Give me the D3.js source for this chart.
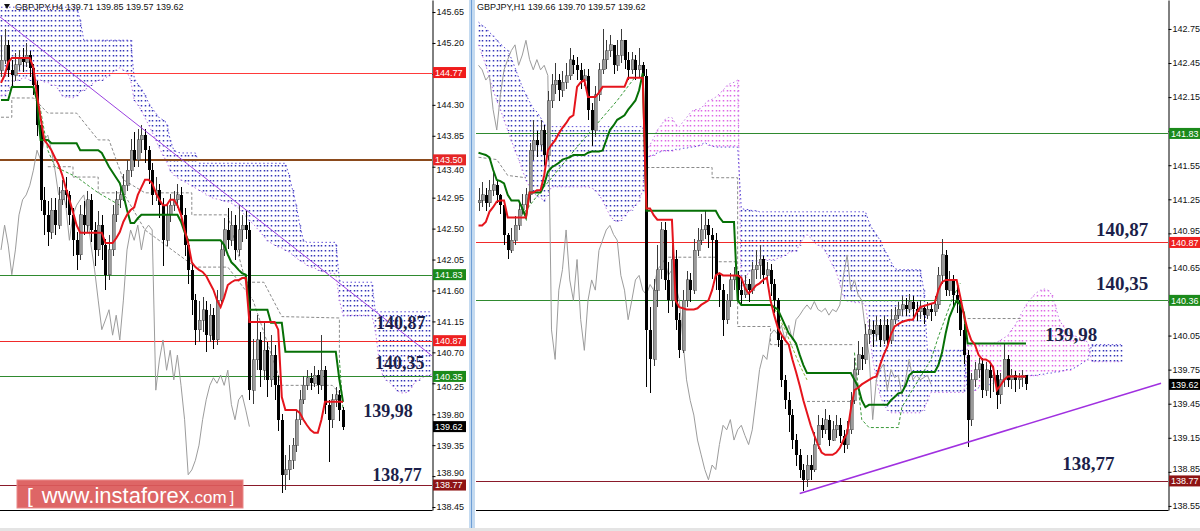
<!DOCTYPE html>
<html><head><meta charset="utf-8">
<script src="https://cdn.jsdelivr.net/npm/d3@7"></script>
<style>body{margin:0;background:#fff}svg{display:block}</style>
</head><body>
<svg id="c" width="1200" height="531"></svg>
<script>
// ---------------- DATA : left panel GBPJPY H4 ----------------
const leftHeader = "GBPJPY,H4  139.71 139.85 139.57 139.62";
const leftOpen0 = 144.80;
const leftClose = [
144.95,145.17,144.81,144.73,144.88,144.98,144.92,145.02,144.84,144.59,
144.01,142.92,142.70,142.45,142.77,142.55,142.92,143.06,142.99,142.70,
142.33,142.12,142.70,142.55,142.92,142.48,142.19,142.55,142.26,141.83,
142.19,142.70,142.92,142.99,143.13,143.35,143.64,143.50,143.79,143.86,
143.64,143.35,142.99,143.06,142.84,142.33,142.70,142.84,142.92,142.99,
142.70,142.26,141.90,141.46,141.03,141.17,141.32,140.95,141.24,140.88,
141.46,142.19,142.48,142.33,142.55,142.19,142.48,142.55,142.48,140.15,
140.59,140.88,140.44,140.73,140.30,140.66,140.22,139.72,138.92,138.99,
139.13,139.35,139.72,140.01,140.22,140.33,140.25,140.37,140.22,140.44,
139.94,139.72,140.01,140.08,139.86,139.62];
const leftHigh = [
145.30,145.40,145.25,144.95,145.05,145.10,145.12,145.20,145.08,144.90,
144.65,144.10,143.10,142.90,142.95,142.95,143.10,143.20,143.25,143.05,
142.80,142.45,142.85,142.90,143.05,143.00,142.60,142.75,142.70,142.35,
142.40,142.85,143.05,143.15,143.30,143.50,143.80,143.90,143.95,144.00,
143.95,143.70,143.45,143.25,143.15,142.95,142.85,143.00,143.05,143.15,
143.10,142.80,142.35,142.00,141.55,141.45,141.50,141.45,141.40,141.35,
141.60,142.30,142.65,142.80,142.75,142.70,142.85,142.70,142.75,142.60,
140.90,141.25,141.00,141.15,140.85,140.95,140.80,140.35,139.80,139.20,
139.35,139.45,139.85,140.15,140.35,140.45,140.40,140.50,140.45,140.95,
140.50,140.00,140.10,140.20,140.15,139.90];
const leftLow = [
144.70,144.90,144.70,144.55,144.65,144.80,144.78,144.85,144.70,144.45,
143.85,142.75,142.40,142.25,142.35,142.40,142.50,142.85,142.80,142.55,
142.10,141.90,142.05,142.40,142.45,142.30,141.95,142.10,142.05,141.60,
141.75,142.10,142.60,142.80,142.90,143.05,143.25,143.40,143.40,143.60,
143.45,143.15,142.85,142.90,142.65,141.95,142.25,142.60,142.75,142.80,
142.55,142.10,141.70,141.25,140.80,140.85,141.00,140.70,140.85,140.75,
140.80,141.40,142.10,142.20,142.25,142.05,142.10,142.30,142.35,140.00,
139.95,140.45,140.20,140.30,140.05,140.20,140.00,139.55,138.65,138.70,
138.85,139.00,139.25,139.65,139.95,140.15,140.15,140.20,140.10,140.15,
139.80,139.10,139.60,139.90,139.70,139.57];
const leftTenkan = [
144.62,144.73,144.92,144.98,144.98,144.98,144.98,144.98,144.98,144.84,
144.44,144.11,143.79,143.72,143.64,143.53,143.43,143.28,143.09,142.92,
142.74,142.55,142.44,142.44,142.44,142.44,142.44,142.44,142.44,142.29,
142.29,142.29,142.36,142.45,142.60,142.70,142.77,142.81,142.99,143.10,
143.21,143.21,143.16,143.02,142.92,142.84,142.84,142.92,142.92,142.84,
142.70,142.48,142.29,142.01,141.94,141.90,141.87,141.81,141.71,141.61,
141.46,141.36,141.50,141.68,141.72,141.75,141.75,141.78,141.78,141.14,
141.14,141.14,141.14,141.14,141.14,141.14,141.14,141.03,140.05,139.86,
139.86,139.86,139.86,139.82,139.72,139.64,139.57,139.53,139.53,139.72,
139.98,139.98,139.98,139.98,139.98,139.98];
const leftKijun = [
144.37,144.37,144.37,144.56,144.56,144.56,144.56,144.56,144.56,144.56,
144.37,143.79,143.79,143.79,143.74,143.74,143.74,143.74,143.74,143.74,
143.74,143.74,143.64,143.64,143.64,143.64,143.64,143.64,143.60,143.50,
143.40,143.32,143.24,143.16,142.99,142.77,142.58,142.58,142.65,142.70,
142.70,142.70,142.70,142.70,142.70,142.70,142.70,142.70,142.70,142.70,
142.60,142.45,142.33,142.33,142.33,142.33,142.33,142.33,142.33,142.33,
142.33,142.33,142.26,142.12,142.01,141.96,141.90,141.85,141.83,141.32,
141.32,141.32,141.32,141.32,141.32,141.13,141.13,141.13,141.13,140.71,
140.71,140.71,140.71,140.71,140.71,140.71,140.71,140.71,140.71,140.71,
140.71,140.71,140.71,140.71,140.30,139.98];
const leftSpanA = [
144.44,144.44,144.52,144.59,144.66,144.66,144.69,144.69,144.66,144.66,
144.66,144.66,144.63,144.63,144.59,144.59,144.52,144.44,144.41,144.41,
144.40,144.44,144.49,144.52,144.54,144.59,144.63,144.66,144.66,144.69,
144.73,144.78,144.81,144.84,144.81,144.78,144.66,144.37,144.30,144.22,
144.11,144.01,143.90,143.79,143.67,143.57,143.47,143.35,143.28,143.24,
143.21,143.18,143.15,143.12,143.09,143.06,143.03,143.00,142.97,142.94,
142.93,142.92,142.90,142.89,142.87,142.84,142.80,142.74,142.68,142.62,
142.57,142.51,142.45,142.39,142.33,142.29,142.26,142.23,142.22,142.19,
142.16,142.12,142.07,142.04,142.01,141.97,141.94,141.93,141.90,141.88,
141.87,141.85,141.85,141.84,141.46,141.24,141.24,141.24,141.24,141.24,
141.24,141.24,141.24,141.24,141.02,140.59,140.37,140.30,140.26,140.20,
140.15,140.11,140.11,140.12,140.18,140.27,140.30,140.33,140.36,140.37,
140.39,140.39];
const leftSpanB = [
145.72,145.72,145.72,145.72,145.72,145.72,145.72,145.72,145.72,145.72,
145.72,145.72,145.72,145.72,145.72,145.72,145.72,145.72,145.72,145.72,
145.72,145.72,145.53,145.24,145.24,145.24,145.24,145.24,145.24,145.24,
145.24,145.24,145.24,145.24,145.24,145.24,145.24,144.69,144.60,144.54,
144.44,144.33,144.25,144.18,144.11,144.08,144.04,143.79,143.64,143.61,
143.60,143.60,143.60,143.60,143.60,143.45,143.45,143.45,143.45,143.45,
143.45,143.45,143.45,143.45,143.45,143.45,143.45,143.45,143.45,143.45,
143.45,143.45,143.45,143.45,143.45,143.45,143.45,143.45,143.45,143.45,
143.28,143.06,142.84,142.55,142.33,142.30,142.30,142.30,142.30,142.30,
142.30,142.30,142.30,142.30,141.75,141.72,141.72,141.72,141.72,141.72,
141.72,141.72,141.72,141.72,141.29,141.29,141.29,141.29,141.29,141.29,
141.29,141.29,141.29,141.29,141.29,141.29,141.29,141.29,141.29,141.29,
141.29,141.29];
const leftDashGray1 = [[0,144.12],[3,144.12],[3,144.40],[9,144.40],[13,144.18],[21,144.18],[27,143.79],[30,143.79],[34,143.21],[40,143.02],[53,143.02],[53,142.70],[63,142.70],[68,141.72],[73,141.72],[78,141.22],[94,141.20],[94,140.59]];
const leftDashGray2 = [[13,143.40],[20,143.40],[20,143.25],[27,143.25],[27,143.02],[34,143.02],[40,142.48],[54,141.94],[63,141.94],[70,141.46],[78,140.22],[92,140.22],[94,140.11]];
const leftDashGreen1 = [[9,144.56],[11,144.22],[13,143.64],[15,143.40],[21,143.25],[27,143.02],[33,142.84]];
const leftDashGreen2 = [[94,140.59],[95,139.86]];
const leftTrend = [[-0.3,145.58],[119.7,140.65]];
const leftLevels = [144.77,143.50,141.83,140.87,140.35,138.77];
const leftLevelText = ["144.77","143.50","141.83","140.87","140.35","138.77"];
const leftLast = 139.62;
const leftTicks = [138.45,138.90,139.35,139.80,140.25,140.70,141.15,141.60,142.05,142.50,142.95,143.40,143.85,144.30,144.75,145.20,145.65];
const leftTimeIdx = [0,16,32,48,64,80];
const leftTimeText = ["24 May 2017","29 May 04:00","31 May 20:00","5 Jun 12:00","8 Jun 04:00","12 Jun 20:00"];
const leftNotes = ["140,87","140,35","139,98","138,77"];

// ---------------- DATA : right panel GBPJPY H1 ----------------
const rightHeader = "GBPJPY,H1  139.66 139.70 139.57 139.62";
const rightOpen0 = 141.22;
const rightClose = [
141.24,141.29,141.22,141.33,141.38,141.29,141.20,140.94,140.80,140.89,
141.02,141.16,141.20,141.29,141.68,141.77,141.73,141.86,141.64,142.12,
142.26,142.30,142.21,142.28,142.34,142.48,142.43,142.39,142.30,142.34,
142.04,141.86,142.17,142.39,142.48,142.56,142.61,142.43,142.52,142.65,
142.48,142.39,142.48,142.39,142.43,142.34,140.10,139.84,140.45,140.63,
140.98,140.54,140.36,140.72,140.19,139.92,140.36,140.54,140.45,140.80,
140.89,140.98,141.02,140.94,140.89,140.58,140.45,140.19,140.36,140.54,
140.58,140.45,140.41,140.50,140.45,140.63,140.67,140.72,140.58,140.63,
140.50,140.36,140.01,139.66,139.48,139.35,139.13,139.00,138.87,138.78,
138.91,138.87,139.09,139.26,139.22,139.31,139.13,139.22,139.26,139.17,
139.09,139.22,139.48,139.75,139.88,139.84,140.06,140.10,140.06,140.14,
140.01,140.14,140.01,140.19,140.23,140.28,140.32,140.28,140.35,140.28,
140.26,140.29,140.23,140.28,140.26,140.32,140.58,140.76,140.45,140.54,
140.41,140.36,140.10,139.88,139.31,139.66,139.75,139.80,139.57,139.75,
139.68,139.70,139.53,139.66,139.84,139.66,139.70,139.66,139.68,139.70,
139.62];
const rightHigh = [
141.35,141.40,141.35,141.42,141.48,141.42,141.30,141.22,140.95,141.00,
141.10,141.22,141.30,141.35,141.75,141.95,141.85,141.95,141.90,142.20,
142.35,142.45,142.35,142.38,142.45,142.58,142.52,142.50,142.45,142.40,
142.40,142.10,142.25,142.45,142.75,142.65,142.70,142.60,142.65,142.75,
142.60,142.55,142.55,142.52,142.58,142.46,142.40,140.30,140.55,140.85,
141.05,141.05,140.70,140.85,140.80,140.25,140.45,140.62,140.60,140.90,
141.00,141.12,141.15,141.08,141.00,140.95,140.60,140.50,140.42,140.60,
140.65,140.62,140.55,140.58,140.55,140.70,140.80,140.85,140.75,140.70,
140.68,140.55,140.38,140.05,139.70,139.55,139.40,139.18,139.05,138.92,
139.00,139.00,139.20,139.35,139.32,139.40,139.35,139.30,139.35,139.32,
139.22,139.30,139.55,139.85,140.00,139.95,140.15,140.20,140.18,140.22,
140.20,140.22,140.20,140.28,140.30,140.35,140.40,140.38,140.42,140.40,
140.35,140.36,140.32,140.35,140.33,140.40,140.65,140.90,140.80,140.62,
140.58,140.50,140.40,140.15,139.92,139.72,139.82,139.85,139.85,139.82,
139.80,139.78,139.75,139.72,139.98,139.88,139.76,139.74,139.72,139.75,
139.70];
const rightLow = [
141.15,141.18,141.15,141.18,141.28,141.22,141.12,140.85,140.72,140.78,
140.85,140.98,141.12,141.15,141.22,141.60,141.62,141.68,141.55,141.60,
142.05,142.18,142.12,142.15,142.22,142.30,142.35,142.30,142.22,142.25,
141.95,141.72,141.80,142.12,142.35,142.40,142.50,142.35,142.38,142.45,
142.40,142.30,142.35,142.30,142.32,142.25,139.60,139.54,139.78,140.30,
140.55,140.45,140.25,140.30,140.10,139.85,139.90,140.30,140.35,140.42,
140.75,140.85,140.90,140.82,140.55,140.45,140.30,140.05,140.15,140.30,
140.45,140.35,140.32,140.38,140.35,140.42,140.55,140.55,140.50,140.52,
140.40,140.25,139.95,139.60,139.40,139.20,139.05,138.90,138.80,138.68,
138.72,138.78,138.85,139.05,139.15,139.18,139.08,139.12,139.15,139.10,
139.02,139.05,139.18,139.45,139.70,139.75,139.80,139.98,139.95,140.00,
139.95,139.98,139.95,139.98,140.15,140.20,140.22,140.22,140.25,140.20,
140.18,140.20,140.15,140.20,140.18,140.22,140.28,140.50,140.40,140.40,
140.30,140.25,140.05,139.80,139.07,139.25,139.60,139.68,139.50,139.52,
139.50,139.55,139.40,139.45,139.60,139.60,139.58,139.55,139.58,139.60,
139.57];
const rightTenkan = [
141.02,141.02,141.05,141.14,141.18,141.23,141.24,141.24,141.09,141.09,
141.09,141.09,141.09,141.09,141.31,141.31,141.33,141.33,141.46,141.68,
141.73,141.77,141.83,141.88,141.92,141.97,141.99,142.24,142.28,142.30,
142.15,142.15,142.15,142.19,142.24,142.24,142.24,142.24,142.24,142.24,
142.24,142.32,142.32,142.32,142.32,142.32,141.17,141.17,141.11,141.07,
141.07,141.07,141.07,141.07,140.36,140.30,140.29,140.28,140.28,140.28,
140.29,140.32,140.34,140.36,140.45,140.58,140.60,140.58,140.58,140.58,
140.58,140.58,140.56,140.47,140.42,140.45,140.49,140.51,140.54,140.56,
140.36,140.23,140.12,140.06,140.01,139.97,139.84,139.73,139.61,139.48,
139.37,139.26,139.17,139.09,139.02,139.00,139.00,139.00,139.02,139.06,
139.13,139.19,139.40,139.57,139.59,139.62,139.64,139.66,139.68,139.69,
139.79,139.88,139.95,140.06,140.13,140.15,140.17,140.18,140.19,140.19,
140.25,140.30,140.31,140.32,140.33,140.34,140.45,140.52,140.54,140.54,
140.54,140.54,140.39,140.23,140.10,140.01,139.97,139.88,139.84,139.84,
139.82,139.77,139.57,139.61,139.66,139.69,139.69,139.69,139.69,139.69,
139.69];
const rightKijun = [
141.66,141.65,141.64,141.62,141.51,141.42,141.41,141.39,141.29,141.24,
141.24,141.24,141.17,141.09,141.31,141.31,141.31,141.31,141.38,141.49,
141.53,141.55,141.57,141.60,141.61,141.62,141.64,141.64,141.64,141.64,
141.66,141.67,141.67,141.67,141.68,141.77,141.86,141.90,141.95,141.97,
141.99,142.04,142.08,142.12,142.21,142.36,141.15,141.15,141.15,141.15,
141.15,141.15,141.15,141.15,141.15,141.15,141.15,141.15,141.15,141.15,
141.15,141.15,141.15,141.15,141.15,141.15,141.09,141.05,141.05,141.05,
141.05,140.36,140.32,140.32,140.32,140.32,140.32,140.32,140.32,140.32,
140.32,140.30,140.28,140.21,140.14,140.07,140.03,139.98,139.88,139.79,
139.72,139.72,139.72,139.72,139.72,139.72,139.72,139.72,139.72,139.72,
139.72,139.72,139.72,139.66,139.60,139.48,139.42,139.44,139.44,139.44,
139.44,139.44,139.44,139.48,139.51,139.54,139.55,139.61,139.70,139.73,
139.73,139.73,139.73,139.73,139.73,139.73,139.79,139.90,140.07,140.21,
140.29,140.36,140.32,140.25,139.98,139.98,139.98,139.98,139.98,139.98,
139.98,139.98,139.98,139.98,139.98,139.98,139.98,139.98,139.98,139.98,
139.98];
const rightSpanA = [
142.61,142.52,142.43,142.32,142.21,142.12,142.04,141.95,141.86,141.77,
141.68,141.60,141.51,141.42,141.36,141.31,141.28,141.26,141.24,141.29,
141.36,141.36,141.36,141.36,141.36,141.36,141.36,141.36,141.36,141.36,
141.36,141.35,141.33,141.29,141.24,141.17,141.11,141.07,141.05,141.07,
141.11,141.14,141.16,141.20,141.24,141.33,141.68,141.73,141.79,141.86,
141.90,141.95,141.97,141.97,141.91,141.89,141.93,141.97,142.01,142.04,
142.04,142.05,142.09,142.12,142.13,142.15,142.18,142.21,142.25,142.27,
142.28,142.30,140.45,140.54,140.61,140.64,140.67,140.70,140.72,140.72,
140.72,140.72,140.73,140.74,140.76,140.78,140.79,140.80,140.85,140.91,
140.94,140.91,140.87,140.85,140.83,140.80,140.73,140.67,140.61,140.50,
140.39,140.36,140.35,140.34,140.34,140.34,140.32,140.10,139.84,139.66,
139.53,139.44,139.40,139.37,139.37,139.37,139.37,139.37,139.37,139.37,
139.37,139.37,139.40,139.48,139.55,139.55,139.55,139.55,139.55,139.55,
139.55,139.55,139.55,139.55,139.97,139.97,139.97,139.97,139.98,139.98,
139.98,139.98,139.99,140.01,140.03,140.05,140.10,140.14,140.20,140.26,
140.32,140.36,140.40,140.43,140.45,140.46,140.45,140.41,140.32,140.20,
140.14,140.10,140.07,140.05,140.04,140.03,140.01,139.99,139.82,139.82,
139.82,139.82,139.82,139.82,139.82,139.82,139.82];
const rightSpanB = [
142.81,142.78,142.76,142.72,142.69,142.65,142.62,142.59,142.56,142.49,
142.41,142.32,142.24,142.17,142.11,142.05,142.02,141.97,141.91,141.89,
141.89,141.89,141.89,141.89,141.89,141.89,141.89,141.89,141.89,141.89,
141.89,141.89,141.89,141.89,141.89,141.89,141.89,141.89,141.89,141.89,
141.89,141.89,141.89,141.89,141.89,141.89,141.62,141.63,141.64,141.66,
141.67,141.68,141.68,141.68,141.69,141.69,141.70,141.70,141.71,141.71,
141.72,141.73,141.75,141.73,141.72,141.71,141.71,141.71,141.71,141.71,
141.71,141.71,141.17,141.16,141.16,141.15,141.15,141.14,141.14,141.14,
141.14,141.14,141.14,141.14,141.14,141.14,141.14,141.14,141.14,141.14,
141.14,141.14,141.14,141.14,141.14,141.14,141.14,141.14,141.14,141.14,
141.14,141.14,141.14,141.14,141.14,141.14,141.14,141.05,140.98,140.94,
140.89,140.82,140.76,140.70,140.64,140.63,140.63,140.63,140.63,140.63,
140.63,140.63,140.45,139.92,139.92,139.92,139.92,139.92,139.92,139.92,
139.92,139.92,139.92,139.92,139.55,139.55,139.57,139.59,139.61,139.62,
139.62,139.63,139.64,139.66,139.66,139.66,139.68,139.68,139.69,139.69,
139.70,139.70,139.70,139.70,139.71,139.71,139.72,139.72,139.73,139.73,
139.74,139.75,139.75,139.76,139.78,139.80,139.82,139.84,139.97,139.97,
139.97,139.97,139.97,139.97,139.97,139.97,139.97];
const rightDashGray0 = [[0,141.62],[5,141.60],[8,141.46],[13,141.44]];
const rightDashGray1 = [[46,141.53],[64,141.53],[64,141.44],[71,141.44],[71,140.13],[80,140.13],[80,139.97],[103,139.97]];
const rightDashGray2 = [[52,140.74],[65,140.74],[65,140.70],[71,140.70]];
const rightDashGray3 = [[90,139.47],[103,139.47]];
const rightDashGray4 = [[134,140.20],[149,140.20]];
const rightDashGreen1 = [[11,141.07],[18,141.36],[27,141.71],[38,142.12],[43,142.33]];
const rightDashGreen2 = [[80,140.36],[84,140.10],[88,139.79],[90,139.66]];
const rightDashGreen3 = [[103,139.90],[105,139.31],[107,139.24],[115,139.24],[116,139.42],[124,139.84],[126,140.04],[130,140.39],[132,140.51]];
const rightTrend = [[88,138.66],[187,139.63]];
const rightLevels = [141.83,140.87,140.36,138.77];
const rightLevelText = ["141.83","140.87","140.36","138.77"];
const rightLast = 139.62;
const rightTicks = [138.55,138.85,139.15,139.45,139.75,140.05,140.35,140.65,140.95,141.25,141.55,141.85,142.15,142.45,142.75];
const rightTimeIdx = [-6.5,11,27,43,59,75,91,107,123,139];
const rightTimeText = ["7 Jun 2017","7 Jun 13:00","8 Jun 05:00","8 Jun 21:00","9 Jun 13:00","12 Jun 05:00","12 Jun 21:00","13 Jun 13:00","14 Jun 05:00","14 Jun 21:00"];
const rightNotes = ["140,87","140,35","139,98","138,77"];

// ---------------- STYLES / LAYOUT ----------------
const FONT = "'Liberation Sans', Arial, sans-serif";
const SERIF = "'Liberation Serif', 'Times New Roman', serif";
const levelStyle = {
  "144.77":{line:"#ff3a3a",box:"#f01c1c",w:1},
  "143.50":{line:"#8b4a1c",box:"#e52626",w:2},
  "141.83":{line:"#2f8a2f",box:"#1b8a1b",w:1},
  "140.87":{line:"#f02a2a",box:"#ee2020",w:1},
  "140.35":{line:"#2f8a2f",box:"#1b8a1b",w:1},
  "140.36":{line:"#2f8a2f",box:"#1b8a1b",w:1},
  "138.77":{line:"#8a1a2a",box:"#8e1414",w:1}
};

const svg = d3.select("#c");
svg.append("rect").attr("width",1200).attr("height",531).attr("fill","#fff");
const defs = svg.append("defs");

function drawPanel(P){
  const x = P.x, y = P.y;
  const g = svg.append("g");
  defs.append("clipPath").attr("id","cp"+P.id).append("rect")
    .attr("x",P.x0).attr("y",0).attr("width",P.x1-P.x0).attr("height",510);
  const plot = g.append("g").attr("clip-path",`url(#cp${P.id})`);
  const line = d3.line().x(d=>x(d[0])).y(d=>y(d[1]));

  // Ichimoku cloud: one dotted column per bar between span A and span B
  const cloud = plot.append("g");
  const per = 5;
  P.spanA.forEach((a,i)=>{
    const b = P.spanB[i];
    const y1 = y(Math.max(a,b)), y2 = y(Math.min(a,b));
    const xx = Math.round(x(i))+0.5;
    cloud.append("line").attr("x1",xx).attr("x2",xx).attr("y1",y1).attr("y2",y2+1)
      .attr("stroke", a>=b ? "#de68e6" : "#3434b8").attr("stroke-width",1.5)
      .attr("stroke-dasharray","1.5,3.5").attr("stroke-dashoffset", (y1%per));
  });
  const idxA = P.spanA.map((v,i)=>[i,v]), idxB = P.spanB.map((v,i)=>[i,v]);
  cloud.append("path").attr("d",line(idxA)).attr("fill","none").attr("stroke","#c27ae6").attr("stroke-width",1).attr("stroke-dasharray","1.5,2.5");
  cloud.append("path").attr("d",line(idxB)).attr("fill","none").attr("stroke","#5a4ad6").attr("stroke-width",1).attr("stroke-dasharray","1.5,2.5");

  // horizontal levels
  P.levels.forEach((v,k)=>{
    const st = levelStyle[P.levelText[k]];
    const yy = Math.round(y(v)) + (st.w===2?0:0.5);
    plot.append("line").attr("x1",P.x0).attr("x2",P.x1).attr("y1",yy).attr("y2",yy)
      .attr("stroke",st.line).attr("stroke-width",st.w);
  });

  // dashed helper lines
  P.dashes.forEach(d=>{
    plot.append("path").attr("d",line(d.pts)).attr("fill","none")
      .attr("stroke",d.c).attr("stroke-width",1).attr("stroke-dasharray","3,2");
  });

  // chikou span (closes shifted back 26 bars)
  const chik = [];
  P.close.forEach((c,i)=>{ if(i>=26) chik.push([i-26,c]); });
  plot.append("path").attr("d",line(chik)).attr("fill","none").attr("stroke","#9c9c9c").attr("stroke-width",1);

  // candles
  const cg = plot.append("g").attr("shape-rendering","crispEdges");
  P.close.forEach((c,i)=>{
    const o = i===0 ? P.open0 : P.close[i-1];
    const bear = c < o;
    const xx = Math.round(x(i));
    cg.append("line").attr("x1",xx+0.5).attr("x2",xx+0.5)
      .attr("y1",y(P.high[i])).attr("y2",y(P.low[i]))
      .attr("stroke",bear?"#000":"#3a3a3a").attr("stroke-width",1);
    const t = y(Math.max(o,c)), b = y(Math.min(o,c));
    cg.append("rect").attr("x",xx-1).attr("y",t).attr("width",3).attr("height",Math.max(1,b-t))
      .attr("fill",bear?"#000":"#9a9a9a").attr("stroke",bear?"none":"#444").attr("stroke-width",bear?0:0.5);
  });

  // kijun & tenkan
  plot.append("path").attr("d",line(P.kijun.map((v,i)=>[i,v]))).attr("fill","none")
    .attr("stroke","#067006").attr("stroke-width",2);
  plot.append("path").attr("d",line(P.tenkan.map((v,i)=>[i,v]))).attr("fill","none")
    .attr("stroke","#e5141c").attr("stroke-width",2);

  // trend line
  plot.append("path").attr("d",line(P.trend)).attr("fill","none")
    .attr("stroke",P.trendColor).attr("stroke-width",P.trendW);

  // price axis
  const ay = g.append("g").attr("transform",`translate(${P.x1+0.5},0)`)
    .call(d3.axisRight(y).tickValues(P.ticks).tickSize(3).tickPadding(1).tickSizeOuter(0).tickFormat(d3.format(".2f")));
  ay.attr("font-family",FONT).attr("font-size",9);
  ay.select(".domain").attr("stroke","#000");
  ay.selectAll("text").attr("fill","#111");
  // tick labels partly covered by a level box sit just below it
  const boxVals = P.levels.concat([P.last]);
  ay.selectAll(".tick").each(function(d){
    const dy = Math.min(...boxVals.map(v=>Math.abs(y(v)-y(d))));
    if (dy > 3 && dy < 11) {
      const below = boxVals.some(v=>y(d)>y(v) && y(d)-y(v)<11);
      d3.select(this).select("text").attr("y", below ? 3 : -3);
    }
  });

  // time axis
  defs.append("clipPath").attr("id","tc"+P.id).append("rect")
    .attr("x",P.x0).attr("y",505).attr("width",P.x1-P.x0+40).attr("height",26);
  const ax = g.append("g").attr("clip-path",`url(#tc${P.id})`).attr("transform","translate(0,510.5)")
    .call(d3.axisBottom(x).tickValues(P.timeIdx).tickSize(3).tickPadding(3).tickSizeOuter(0)
      .tickFormat((d,i)=>P.timeText[i]));
  ax.attr("font-family",FONT).attr("font-size",9).attr("text-anchor","start");
  ax.select(".domain").remove();
  ax.selectAll("text").attr("fill","#111").attr("x",-1);
  g.append("line").attr("x1",P.x0).attr("x2",P.x1+0.5).attr("y1",510.5).attr("y2",510.5).attr("stroke","#000");

  // level boxes
  const boxes = P.levels.map((v,k)=>({v, t:P.levelText[k], c:levelStyle[P.levelText[k]].box}))
    .concat([{v:P.last, t:P.last.toFixed(2), c:"#000"}]);
  boxes.forEach(bx=>{
    const yy = y(bx.v);
    g.append("rect").attr("x",P.x1+1).attr("y",yy-5.5).attr("width",P.boxW).attr("height",11).attr("fill",bx.c);
    g.append("text").attr("x",P.x1+3).attr("y",yy+3.3).attr("fill","#fff")
      .attr("font-family",FONT).attr("font-size",9).text(bx.t);
  });

  // notes
  P.notes.forEach((t,k)=>{
    const n = P.noteAt[k];
    g.append("text").attr("x",x(n[0])).attr("y",y(n[1])).attr("fill","#1c1f4a")
      .attr("font-family",SERIF).attr("font-weight","bold").attr("font-size",P.noteSize).text(t);
  });

  // header
  g.append("text").attr("x",P.headerX).attr("y",10).attr("font-family",FONT).attr("font-size",9)
    .attr("fill","#111").text(P.header);
}

const xL = d3.scaleLinear().domain([0,95]).range([1,343]);
const yL = d3.scaleLinear().domain([138.407,145.825]).range([510,0]);
const xR = d3.scaleLinear().domain([0,150]).range([478.5,1026]);
const yR = d3.scaleLinear().domain([138.514,143.005]).range([510,0]);

drawPanel({id:"L", x:xL, y:yL, x0:0, x1:432, boxW:33,
  close:leftClose, high:leftHigh, low:leftLow, open0:leftOpen0,
  tenkan:leftTenkan, kijun:leftKijun, spanA:leftSpanA, spanB:leftSpanB,
  dashes:[{pts:leftDashGray1,c:"#8a8a8a"},{pts:leftDashGray2,c:"#8a8a8a"},{pts:leftDashGreen1,c:"#3a9a3a"},{pts:leftDashGreen2,c:"#3a9a3a"}],
  trend:leftTrend, trendColor:"#9a40e0", trendW:1,
  levels:leftLevels, levelText:leftLevelText, last:leftLast, ticks:leftTicks,
  timeIdx:leftTimeIdx, timeText:leftTimeText,
  notes:leftNotes, noteAt:[[104.2,141.04],[103.9,140.46],[100.6,139.76],[103.1,138.83]], noteSize:18,
  header:leftHeader, headerX:15});

drawPanel({id:"R", x:xR, y:yR, x0:476, x1:1168, boxW:31,
  close:rightClose, high:rightHigh, low:rightLow, open0:rightOpen0,
  tenkan:rightTenkan, kijun:rightKijun, spanA:rightSpanA, spanB:rightSpanB,
  dashes:[{pts:rightDashGray0,c:"#8a8a8a"},{pts:rightDashGray1,c:"#8a8a8a"},{pts:rightDashGray2,c:"#8a8a8a"},{pts:rightDashGray3,c:"#8a8a8a"},{pts:rightDashGray4,c:"#8a8a8a"},
          {pts:rightDashGreen1,c:"#3a9a3a"},{pts:rightDashGreen2,c:"#8ab83a"},{pts:rightDashGreen3,c:"#3a9a3a"}],
  trend:rightTrend, trendColor:"#a030e0", trendW:1.6,
  levels:rightLevels, levelText:rightLevelText, last:rightLast, ticks:rightTicks,
  timeIdx:rightTimeIdx, timeText:rightTimeText,
  notes:rightNotes, noteAt:[[169.2,140.93],[169.2,140.45],[155.2,140.00],[159.9,138.87]], noteSize:19,
  header:rightHeader, headerX:477});

// header marker triangle (left)
svg.append("path").attr("d","M4,4 L10,4 L7,9 Z").attr("fill","#111");

// window separator between the two charts
svg.append("rect").attr("x",467).attr("y",0).attr("width",9).attr("height",531).attr("fill","#fff");
svg.append("rect").attr("x",469).attr("y",0).attr("width",6).attr("height",531).attr("fill","#c4daf0");
svg.append("line").attr("x1",471.5).attr("x2",471.5).attr("y1",0).attr("y2",531).attr("stroke","#6f9fd6").attr("stroke-width",1);
svg.append("rect").attr("x",0).attr("y",528).attr("width",1200).attr("height",3).attr("fill","#e4e4e4");

// watermark
const wm = svg.append("g");
wm.append("rect").attr("x",17).attr("y",480).attr("width",226).attr("height",28)
  .attr("fill","#dc5a5a").attr("fill-opacity",0.93).attr("stroke","#ea8a8a").attr("stroke-width",1);
const wt = wm.append("text").attr("x",27).attr("y",503).attr("fill","#fff").attr("font-family",FONT);
wt.append("tspan").attr("font-size",21).text("[");
wt.append("tspan").attr("font-size",22).attr("dx",9).text("www.instaforex");
wt.append("tspan").attr("font-size",17).text(".com");
wt.append("tspan").attr("font-size",16).attr("dx",3).text("]");
</script>
</body></html>
